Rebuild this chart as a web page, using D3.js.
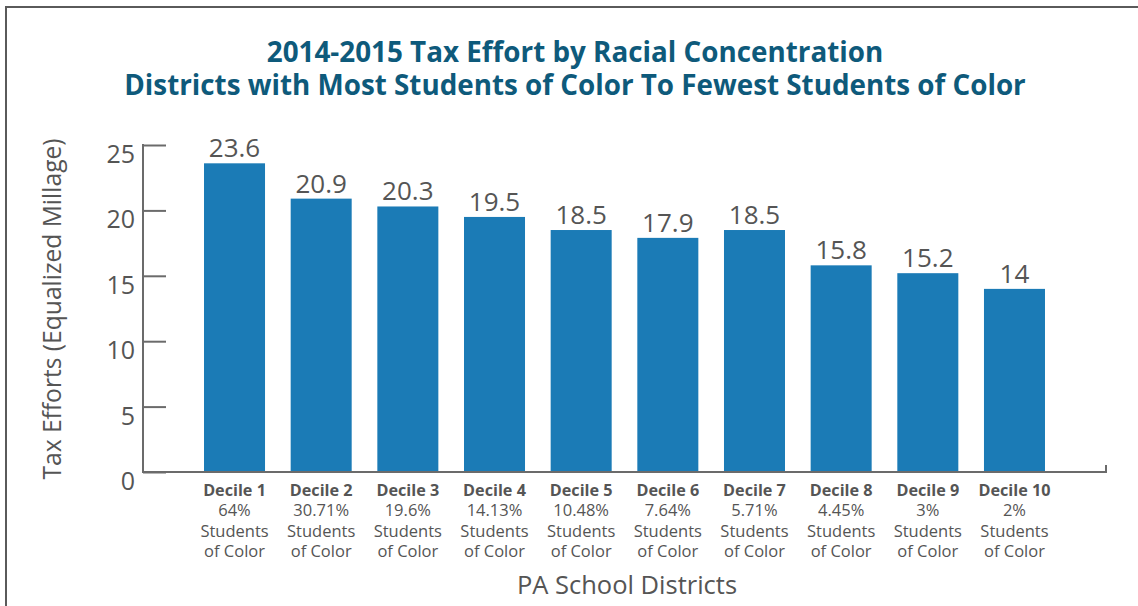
<!DOCTYPE html>
<html>
<head>
<meta charset="utf-8">
<script src="https://cdn.jsdelivr.net/npm/d3@7"></script>
<style>
  html, body { margin: 0; padding: 0; background: #fff; }
  svg { display: block; font-family: "Open Sans", "Noto Sans", sans-serif; }
</style>
</head>
<body>
<svg id="chart" width="1138" height="606"></svg>
<script>
// Decile labels, share of students of color, and tax effort (equalized millage)
const deciles = ["Decile 1", "Decile 2", "Decile 3", "Decile 4", "Decile 5",
                 "Decile 6", "Decile 7", "Decile 8", "Decile 9", "Decile 10"];
const shares = ["64%", "30.71%", "19.6%", "14.13%", "10.48%",
                "7.64%", "5.71%", "4.45%", "3%", "2%"];
const taxEffort = [23.6, 20.9, 20.3, 19.5, 18.5, 17.9, 18.5, 15.8, 15.2, 14];
const yTicks = [0, 5, 10, 15, 20, 25];
const titleLines = ["2014-2015 Tax Effort by Racial Concentration",
                    "Districts with Most Students of Color To Fewest Students of Color"];

const svg = d3.select("#chart");
const barColor = "#1b7bb6";
const textGray = "#555";
const axisGray = "#6b6b6b";

// Outer frame (continues past right and bottom edges)
svg.append("rect")
  .attr("x", 6).attr("y", 7)
  .attr("width", 1160).attr("height", 640)
  .attr("fill", "none").attr("stroke", "#5a5a5a").attr("stroke-width", 2);

const x0 = 143, x1 = 1106, yTop = 145, yBase = 472;

const x = d3.scaleBand()
  .domain(deciles)
  .range([x0, x1])
  .paddingInner(0.296)
  .paddingOuter(0.704);

const y = d3.scaleLinear().domain([0, 25]).range([yBase, yTop]);

// Title
svg.append("g").selectAll("text")
  .data(titleLines)
  .join("text")
  .attr("x", 575)
  .attr("y", (d, i) => 62 + i * 33)
  .attr("text-anchor", "middle")
  .attr("font-size", 27.8)
  .attr("font-weight", 700)
  .attr("fill", "#0e5a7b")
  .text(d => d);

// Y axis: inward ticks, labels hung below each tick
const yAxis = d3.axisRight(y).tickValues(yTicks).tickSize(23).tickFormat("");
const gy = svg.append("g").attr("transform", `translate(${x0},0)`).call(yAxis);
gy.select(".domain").remove();
gy.selectAll(".tick line").attr("stroke", axisGray).attr("stroke-width", 2);
svg.append("line")
  .attr("x1", x0).attr("x2", x0).attr("y1", y(25) - 1).attr("y2", yBase + 1)
  .attr("stroke", axisGray).attr("stroke-width", 2);

svg.append("g").selectAll("text")
  .data(yTicks)
  .join("text")
  .attr("x", 135)
  .attr("y", d => y(d) + 18)
  .attr("text-anchor", "end")
  .attr("font-size", 25)
  .attr("fill", textGray)
  .text(d => d);

// Y axis title
svg.append("text")
  .attr("transform", "translate(61,309) rotate(-90)")
  .attr("text-anchor", "middle")
  .attr("font-size", 24.6)
  .attr("fill", textGray)
  .text("Tax Efforts (Equalized Millage)");

// Bars
svg.append("g").selectAll("rect")
  .data(taxEffort)
  .join("rect")
  .attr("x", (d, i) => x(deciles[i]))
  .attr("y", d => y(d))
  .attr("width", x.bandwidth())
  .attr("height", d => yBase - y(d))
  .attr("fill", barColor);

// Value labels
svg.append("g").selectAll("text")
  .data(taxEffort)
  .join("text")
  .attr("x", (d, i) => x(deciles[i]) + x.bandwidth() / 2)
  .attr("y", d => y(d) - 6)
  .attr("text-anchor", "middle")
  .attr("font-size", 26)
  .attr("fill", textGray)
  .text(d => d);

// X axis baseline with end tick
svg.append("path")
  .attr("d", `M${x0},${yBase}H${x1}V${yBase - 7}`)
  .attr("fill", "none").attr("stroke", axisGray).attr("stroke-width", 2);

// Category labels, one text per line
const catLines = deciles.flatMap((d, i) =>
  [d, shares[i], "Students", "of Color"].map((s, j) => ({ key: d, s, j })));
svg.append("g").selectAll("text")
  .data(catLines)
  .join("text")
  .attr("x", d => x(d.key) + x.bandwidth() / 2)
  .attr("y", d => 496 + d.j * 20.3)
  .attr("text-anchor", "middle")
  .attr("font-weight", d => d.j === 0 ? 700 : 400)
  .attr("font-size", d => d.j === 0 ? 16.2 : 16.5)
  .attr("fill", textGray)
  .text(d => d.s);

// X axis title
svg.append("text")
  .attr("x", 627)
  .attr("y", 594)
  .attr("text-anchor", "middle")
  .attr("font-size", 25.5)
  .attr("fill", textGray)
  .text("PA School Districts");
</script>
</body>
</html>
